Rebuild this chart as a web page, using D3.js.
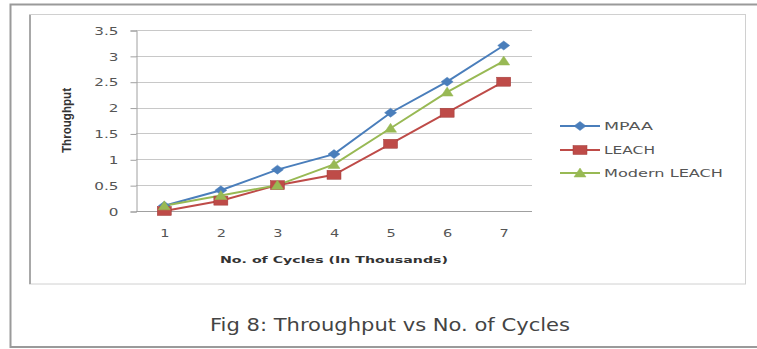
<!DOCTYPE html>
<html>
<head>
<meta charset="utf-8">
<script src="https://cdn.jsdelivr.net/npm/d3@7"></script>
<style>
  body { margin: 0; background: #fff; }
  svg { display: block; }
</style>
</head>
<body>
<script>
// chart values
var cycles = ["1", "2", "3", "4", "5", "6", "7"];
var mpaa = [0.1, 0.4, 0.8, 1.1, 1.9, 2.5, 3.2];
var leach = [0, 0.2, 0.5, 0.7, 1.3, 1.9, 2.5];
var modernLeach = [0.1, 0.3, 0.5, 0.9, 1.6, 2.3, 2.9];
var yTicks = [0, 0.5, 1, 1.5, 2, 2.5, 3, 3.5];
var seriesNames = ["MPAA", "LEACH", "Modern LEACH"];
var seriesColors = ["#4a7ebb", "#be4b48", "#98b954"];

var series = [mpaa, leach, modernLeach].map(function(vals, i) {
  return { name: seriesNames[i], color: seriesColors[i], values: vals };
});

var font = "Verdana, 'DejaVu Sans', sans-serif";
var stretch = 1.45; // the picture is stretched sideways, so is the text

var width = 757, height = 349;
var svg = d3.select("body").append("svg")
  .attr("width", width)
  .attr("height", height);

// outer figure frame and inner chart box
svg.append("rect").attr("x", 10.5).attr("y", 4.5).attr("width", 760).attr("height", 342.5)
  .attr("fill", "#fff").attr("stroke", "#9a9a9a").attr("stroke-width", 2);
svg.append("rect").attr("x", 29.5).attr("y", 14.5).attr("width", 716).attr("height", 269.5)
  .attr("fill", "#fff").attr("stroke", "#d0d0d0").attr("stroke-width", 1);
svg.append("line").attr("x1", 30).attr("x2", 30).attr("y1", 15).attr("y2", 284)
  .attr("stroke", "#a8a8a8").attr("stroke-width", 2);

var plot = { left: 136, right: 532, top: 30, bottom: 211 };

var xScale = d3.scalePoint()
  .domain(cycles)
  .range([plot.left, plot.right])
  .padding(0.5);

var yScale = d3.scaleLinear()
  .domain([0, 3.5])
  .range([plot.bottom, plot.top]);

// gridlines
svg.append("g")
  .selectAll("line")
  .data(yTicks)
  .join("line")
  .attr("x1", plot.left)
  .attr("x2", plot.right)
  .attr("y1", function(d) { return Math.round(yScale(d)) + 0.5; })
  .attr("y2", function(d) { return Math.round(yScale(d)) + 0.5; })
  .attr("stroke", function(d) { return d === 0 ? "#a0a0a0" : "#c8c8c8"; });

// y axis
var yAxis = d3.axisLeft(yScale).tickValues(yTicks).tickSize(6)
  .tickFormat(function(d) { return d; });
var yg = svg.append("g").attr("transform", "translate(" + (plot.left + 0.5) + ",0.5)").call(yAxis);
yg.select(".domain").attr("stroke", "#a0a0a0");
yg.selectAll(".tick line").attr("stroke", "#a0a0a0");
yg.selectAll("text")
  .attr("x", 0)
  .attr("dy", "0.35em")
  .attr("transform", "translate(-18,0) scale(" + stretch + ",1)")
  .attr("font-family", font)
  .attr("font-size", 10.5).attr("fill", "#555");

// x labels
var xAxis = d3.axisBottom(xScale).tickSize(0);
var xg = svg.append("g").attr("transform", "translate(0," + plot.bottom + ")").call(xAxis);
xg.select(".domain").remove();
xg.selectAll("text")
  .attr("y", 0).attr("dy", 0)
  .attr("transform", "translate(0,26) scale(" + stretch + ",1)")
  .attr("font-family", font)
  .attr("font-size", 10).attr("fill", "#555");

// axis titles
svg.append("text")
  .attr("x", 220)
  .attr("y", 263)
  .attr("textLength", 228)
  .attr("lengthAdjust", "spacingAndGlyphs")
  .attr("font-family", font)
  .attr("font-size", 9.5)
  .attr("font-weight", "bold")
  .attr("fill", "#333")
  .text("No. of Cycles (In Thousands)");

svg.append("text")
  .attr("transform", "translate(71,153) rotate(-90)")
  .attr("textLength", 65)
  .attr("lengthAdjust", "spacingAndGlyphs")
  .attr("font-family", "'Liberation Sans', Arial, sans-serif")
  .attr("font-size", 12)
  .attr("font-weight", "bold")
  .attr("fill", "#333")
  .text("Throughput");

// lines
var line = d3.line()
  .x(function(d, i) { return xScale(cycles[i]); })
  .y(function(d) { return yScale(d); });

svg.append("g")
  .selectAll("path")
  .data(series)
  .join("path")
  .attr("d", function(d) { return line(d.values); })
  .attr("fill", "none")
  .attr("stroke", function(d) { return d.color; })
  .attr("stroke-width", 2);

// markers: diamond, square, triangle (wider than tall, like the picture)
function marker(g, idx, color, x, y) {
  if (idx === 0) {
    g.append("path").attr("d", "M-6,0L0,-4.5L6,0L0,4.5Z")
      .attr("transform", "translate(" + x + "," + y + ")")
      .attr("fill", color).attr("stroke", color).attr("stroke-width", 0.5);
  } else if (idx === 1) {
    g.append("rect").attr("x", x - 7).attr("y", y - 4.5).attr("width", 14).attr("height", 9)
      .attr("fill", color).attr("stroke", "#a03c3a").attr("stroke-width", 0.5);
  } else {
    g.append("path").attr("d", "M-6,4L0,-5L6,4Z")
      .attr("transform", "translate(" + x + "," + y + ")")
      .attr("fill", color).attr("stroke", color).attr("stroke-width", 0.5);
  }
}

series.forEach(function(s, si) {
  var g = svg.append("g");
  s.values.forEach(function(v, i) {
    marker(g, si, s.color, xScale(cycles[i]), yScale(v));
  });
});

// legend
var legendY = [126, 150, 173];
var legendWidths = [49, 51, 119];
series.forEach(function(s, si) {
  var g = svg.append("g").attr("transform", "translate(560," + legendY[si] + ")");
  g.append("line").attr("x1", 0).attr("x2", 40).attr("y1", 0).attr("y2", 0)
    .attr("stroke", s.color).attr("stroke-width", 2);
  marker(g, si, s.color, 20, 0);
  g.append("text").attr("x", 44).attr("y", 4)
    .attr("textLength", legendWidths[si])
    .attr("lengthAdjust", "spacingAndGlyphs")
    .attr("font-family", font)
    .attr("font-size", 10.5)
    .attr("fill", "#555")
    .text(s.name);
});

// caption
svg.append("text")
  .attr("x", 210)
  .attr("y", 331)
  .attr("textLength", 360)
  .attr("lengthAdjust", "spacingAndGlyphs")
  .attr("font-family", font)
  .attr("font-size", 18)
  .attr("fill", "#444")
  .text("Fig 8: Throughput vs No. of Cycles");
</script>
</body>
</html>
